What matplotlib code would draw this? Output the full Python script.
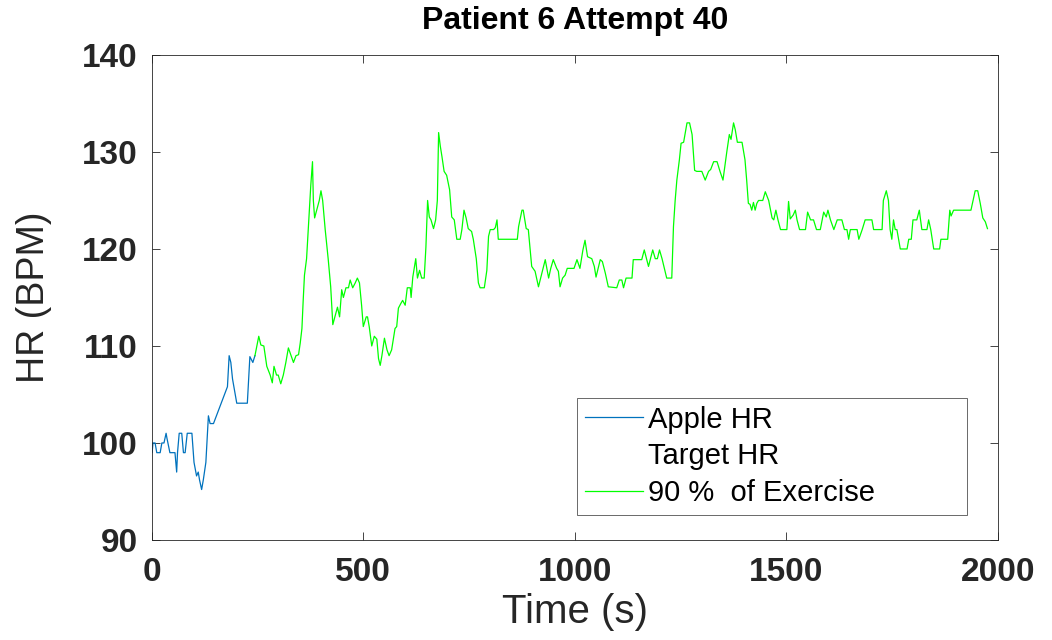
import matplotlib
matplotlib.use("Agg")
import matplotlib.pyplot as plt

plt.rcParams['font.family'] = ['Liberation Sans', 'DejaVu Sans']

# Apple HR (blue segment, start of session)
apple_t = [0, 1, 3, 8, 12, 20, 24, 29, 34, 36, 43, 55, 59, 61, 65, 71, 75, 79, 84, 95,
           100, 106, 110, 113, 118, 122, 128, 134, 138, 146, 179, 183, 187, 191, 201,
           226, 232, 239, 244]
apple_hr = [100, 99, 100, 100, 99, 99, 100, 100, 101, 100.5, 99, 99, 97, 99, 101, 101, 99, 99,
            101, 101, 98, 96.6, 97, 96.2, 95.2, 96.2, 98, 102.8, 102, 102, 105.8, 109, 108.3,
            106.6, 104.1, 104.1, 108.9, 108.3, 109]

# 90 % of Exercise (green segment)
ex_t = [244, 253, 258, 265, 272, 280, 285, 289, 295, 299, 305, 311, 317, 323, 327, 335, 341,
        347, 351, 355, 358, 361, 366, 370, 376, 380, 382, 385, 390, 396, 400, 404, 410, 417,
        423, 428, 433, 439, 444, 449, 453, 459, 465, 469, 475, 481, 486, 491, 496, 500, 507,
        510, 514, 520, 526, 532, 536, 540, 544, 550, 556, 561, 567, 575, 579, 583, 589, 593,
        599, 604, 611, 613, 617, 624, 628, 633, 638, 644, 648, 652, 656, 660, 666, 671, 675,
        678, 682, 686, 691, 697, 704, 709, 715, 721, 729, 733, 738, 743, 748, 756, 760, 767,
        772, 776, 786, 792, 796, 800, 808, 812, 816, 819, 864, 867, 875, 878, 885, 890, 898,
        906, 914, 922, 930, 938, 943, 949, 957, 961, 965, 971, 977, 982, 998, 1005, 1008,
        1012, 1019, 1024, 1030, 1040, 1046, 1050, 1056, 1060, 1065, 1072, 1079, 1099, 1105,
        1111, 1115, 1121, 1135, 1138, 1158, 1164, 1174, 1184, 1190, 1195, 1200, 1206, 1217,
        1229, 1233, 1237, 1241, 1247, 1251, 1257, 1265, 1271, 1277, 1283, 1288, 1300, 1308,
        1316, 1321, 1328, 1336, 1343, 1350, 1359, 1365, 1369, 1375, 1379, 1384, 1395, 1402,
        1406, 1410, 1414, 1418, 1422, 1426, 1430, 1434, 1444, 1450, 1458, 1466, 1470, 1475,
        1480, 1486, 1501, 1505, 1509, 1516, 1521, 1525, 1531, 1545, 1550, 1557, 1564, 1571,
        1580, 1588, 1594, 1598, 1604, 1612, 1620, 1631, 1637, 1643, 1647, 1651, 1667, 1671,
        1679, 1686, 1702, 1706, 1726, 1729, 1736, 1741, 1745, 1749, 1753, 1757, 1761, 1769,
        1785, 1789, 1795, 1799, 1808, 1814, 1816, 1820, 1832, 1836, 1841, 1848, 1862, 1865,
        1881, 1886, 1889, 1895, 1936, 1946, 1952, 1958, 1964, 1970, 1975]
ex_hr = [109, 111, 110.1, 110, 107.9, 107, 106.2, 107.9, 107, 107, 106.1, 107, 108.3, 109.8,
         109.3, 108.3, 109, 109.1, 110.3, 111.8, 114.7, 117.3, 119, 122, 126.6, 129, 125, 123.2,
         124, 125, 126, 125, 122, 119, 116.1, 112.2, 113, 114, 113, 115.8, 115, 116, 116, 116.8,
         116, 116.5, 117, 116.5, 114.2, 112, 113, 113, 112, 110, 111, 110.7, 108.7, 108, 109,
         110.8, 109.6, 109, 109.6, 111.8, 112, 113.9, 114.4, 114.7, 114.2, 116, 116, 115, 117.1,
         119, 117, 117.8, 117, 117, 120.2, 125, 123.3, 123, 122.1, 123, 125, 132, 130.6, 129.5,
         128, 127.6, 126.1, 123.3, 123, 121, 121, 122, 124, 123.2, 122.1, 121.8, 121, 119, 116.5,
         116, 116, 117.8, 121.3, 122, 122, 122.2, 123, 121, 121, 122.3, 124, 124, 122.1, 122,
         118.2, 117.7, 116.1, 117.5, 118.9, 117, 118, 118.9, 118, 117.7, 116.1, 117, 117.3, 118,
         118, 118.9, 118.5, 118, 119.9, 120.9, 119.2, 119, 118.2, 117.1, 118.2, 118.9, 118.7,
         117.5, 116.1, 116, 116.8, 116.8, 116, 117, 117, 118.9, 118.9, 119.9, 118.2, 119.9, 119,
         119, 119.9, 119, 117, 117, 122.3, 125, 127.1, 129.2, 130.9, 131, 133, 133, 131.8, 128.1,
         128, 128, 127.1, 128, 128.2, 129, 129, 128, 127.1, 130, 131.8, 131.3, 133, 132.3, 131,
         131, 129.2, 127.1, 124.7, 124.6, 124, 124.8, 124, 124.7, 125, 125, 125.9, 125, 123.2,
         123, 124, 123, 122, 122, 124.9, 123.1, 123.5, 124, 123, 122, 122, 123.8, 123, 123, 122,
         122, 123.8, 123.3, 124, 123, 122, 123, 123, 122, 122, 121, 122, 122, 121, 122, 123, 123,
         122, 122, 125, 126, 125, 122, 121, 123, 122, 122, 120, 120, 121, 121, 123, 123, 124,
         123.3, 122, 122, 123, 122, 120, 120, 121, 121, 124, 123.4, 124, 124, 126, 126, 124.7,
         123.2, 122.8, 122.1]

target_t = []
target_hr = []

x_ticks = [0, 500, 1000, 1500, 2000]
y_ticks = [90, 100, 110, 120, 130, 140]

fig = plt.figure(figsize=(10.52, 6.40), dpi=100)
ax = fig.add_axes([0.1442, 0.1563, 0.8045, 0.7578])

ax.plot(apple_t, apple_hr, color='#0072BD', lw=0.9, label='Apple HR')
ax.plot(target_t, target_hr, color='none', lw=0.9, label='Target HR')
ax.plot(ex_t, ex_hr, color='#00FF00', lw=0.9, label='90 %  of Exercise')

ax.set_xlim(0, 2000)
ax.set_ylim(90, 140)
ax.set_xticks(x_ticks)
ax.set_yticks(y_ticks)
ax.tick_params(direction='in', length=5.5, width=0.6, color='#262626',
               top=True, right=True, labelsize=24, labelcolor='#262626')
ax.tick_params(axis='x', pad=12)
ax.tick_params(axis='y', pad=10)
for lab in ax.get_xticklabels() + ax.get_yticklabels():
    lab.set_fontweight('bold')
for sp in ax.spines.values():
    sp.set_color('#262626')
    sp.set_linewidth(0.6)

ax.set_title('Patient 6 Attempt 40', fontsize=23, fontweight='bold', color='black', pad=19)
ax.set_xlabel('Time (s)', fontsize=29, color='#262626', labelpad=4)
ax.set_ylabel('HR (BPM)', fontsize=27, color='#262626', labelpad=22)

leg = ax.legend(loc='lower left', bbox_to_anchor=(0.5025, 0.0515, 0.4608, 0.2433),
                mode='expand', borderaxespad=0,
                fontsize=21, frameon=True, fancybox=False, handlelength=2.0,
                handletextpad=0.17, labelspacing=0.3, borderpad=0.27)
leg.get_frame().set_edgecolor('#262626')
leg.get_frame().set_linewidth(0.6)
for t in leg.get_texts():
    t.set_color('black')

fig.savefig('out.png', dpi=100, facecolor='white')
